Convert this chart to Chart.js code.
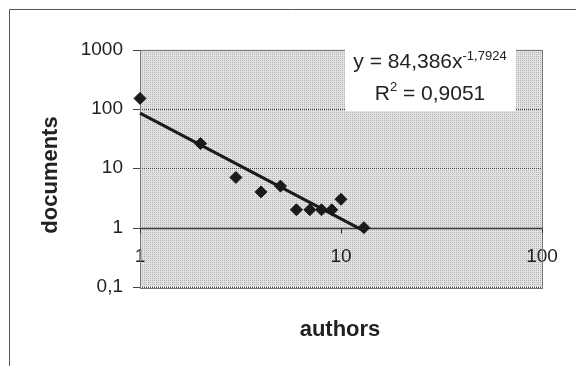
<!DOCTYPE html>
<html>
<head>
<meta charset="utf-8">
<script src="https://cdn.jsdelivr.net/npm/chart.js@4.4.0/dist/chart.umd.min.js"></script>
<style>
  html, body { margin: 0; padding: 0; background: #fff; }
  canvas { display: block; }
</style>
</head>
<body>
<canvas id="powerChart" width="580" height="366"></canvas>
<script>
// data
const authors = [1, 2, 3, 4, 5, 6, 7, 8, 9, 10, 13];
const documents = [150, 26, 7, 4, 5, 2, 2, 2, 2, 3, 1];
const trendAuthors = [1, 13];
const trendDocuments = [85, 0.88];
const xTicks = [1, 10, 100];
const xTickLabels = ['1', '10', '100'];
const yTicks = [0.1, 1, 10, 100, 1000];
const yTickLabels = ['0,1', '1', '10', '100', '1000'];
const equationMain = 'y = 84,386x';
const equationExp = '-1,7924';
const rSquared = '0,9051';

const FONT = '"Liberation Sans", Arial, sans-serif';

// stippled grey plot background like the old Excel look
const tile = document.createElement('canvas');
tile.width = 2; tile.height = 2;
const tc = tile.getContext('2d');
tc.fillStyle = '#e2e2e2';
tc.fillRect(0, 0, 2, 2);
tc.fillStyle = '#b2b2b2';
tc.fillRect(0, 0, 1, 1);

const excelLook = {
  id: 'excelLook',
  beforeDraw(chart) {
    const ctx = chart.ctx;
    const a = chart.chartArea;
    ctx.save();
    ctx.fillStyle = '#fff';
    ctx.fillRect(0, 0, chart.width, chart.height);
    // outer frame (top + left only visible)
    ctx.strokeStyle = '#555';
    ctx.lineWidth = 1;
    ctx.beginPath();
    ctx.moveTo(9.5, chart.height);
    ctx.lineTo(9.5, 9.5);
    ctx.lineTo(chart.width - 4, 9.5);
    ctx.stroke();
    ctx.fillStyle = ctx.createPattern(tile, 'repeat');
    ctx.fillRect(a.left, a.top, a.right - a.left, a.bottom - a.top);
    ctx.restore();
  },
  beforeDatasetsDraw(chart) {
    const ctx = chart.ctx;
    const a = chart.chartArea;
    const x = chart.scales.x;
    const y = chart.scales.y;
    ctx.save();
    // horizontal gridlines
    yTicks.forEach(v => {
      const py = Math.round(y.getPixelForValue(v)) + 0.5;
      ctx.beginPath();
      if (v === 1) {
        ctx.setLineDash([]);
        ctx.strokeStyle = '#333';
        ctx.lineWidth = 1.5;
      } else {
        ctx.setLineDash([1, 1]);
        ctx.strokeStyle = '#444';
        ctx.lineWidth = 1;
      }
      ctx.moveTo(a.left, py);
      ctx.lineTo(a.right, py);
      ctx.stroke();
      // tick mark on the value axis
      ctx.setLineDash([]);
      ctx.strokeStyle = '#444';
      ctx.lineWidth = 1;
      ctx.beginPath();
      ctx.moveTo(a.left - 7, py);
      ctx.lineTo(a.left, py);
      ctx.stroke();
    });
    // plot border
    ctx.setLineDash([]);
    ctx.strokeStyle = '#777';
    ctx.lineWidth = 1;
    ctx.strokeRect(Math.round(a.left) + 0.5, Math.round(a.top) + 0.5,
      Math.round(a.right - a.left), Math.round(a.bottom - a.top));
    // x tick marks on the y = 1 axis line
    const axisY = Math.round(y.getPixelForValue(1)) + 0.5;
    ctx.strokeStyle = '#333';
    xTicks.forEach(v => {
      const px = Math.round(x.getPixelForValue(v)) + 0.5;
      ctx.beginPath();
      ctx.moveTo(px, axisY);
      ctx.lineTo(px, axisY + 5);
      ctx.stroke();
    });
    ctx.restore();
  },
  afterDraw(chart) {
    const ctx = chart.ctx;
    ctx.save();
    // trendline label
    ctx.fillStyle = '#fff';
    ctx.fillRect(345, 49, 171, 62);
    ctx.fillStyle = '#222';
    ctx.textBaseline = 'alphabetic';
    ctx.textAlign = 'left';
    const cx = 430;
    ctx.font = '21px ' + FONT;
    const w1 = ctx.measureText(equationMain).width;
    ctx.font = '13px ' + FONT;
    const w2 = ctx.measureText(equationExp).width;
    let sx = cx - (w1 + w2) / 2;
    ctx.font = '21px ' + FONT;
    ctx.fillText(equationMain, sx, 67.5);
    ctx.font = '13px ' + FONT;
    ctx.fillText(equationExp, sx + w1, 60);

    ctx.font = '21px ' + FONT;
    const wR = ctx.measureText('R').width;
    const wRest = ctx.measureText(' = ' + rSquared).width;
    ctx.font = '13px ' + FONT;
    const wSq = ctx.measureText('2').width;
    sx = cx - (wR + wSq + wRest) / 2;
    ctx.font = '21px ' + FONT;
    ctx.fillText('R', sx, 99.5);
    ctx.font = '13px ' + FONT;
    ctx.fillText('2', sx + wR, 91);
    ctx.font = '21px ' + FONT;
    ctx.fillText(' = ' + rSquared, sx + wR + wSq, 99.5);

    // axis titles
    ctx.fillStyle = '#222';
    ctx.font = 'bold 22px ' + FONT;
    ctx.textAlign = 'center';
    ctx.fillText('authors', 340, 336);
    ctx.translate(57, 175);
    ctx.rotate(-Math.PI / 2);
    ctx.fillText('documents', 0, 0);
    ctx.restore();
  }
};

const ctx = document.getElementById('powerChart');
new Chart(ctx, {
  type: 'scatter',
  data: {
    datasets: [
      {
        label: 'documents',
        data: authors.map((a, i) => ({ x: a, y: documents[i] })),
        pointStyle: 'rectRot',
        pointRadius: 6,
        pointBackgroundColor: '#1a1a1a',
        pointBorderColor: '#1a1a1a',
        pointBorderWidth: 1,
        clip: false
      },
      {
        label: 'trend',
        data: trendAuthors.map((a, i) => ({ x: a, y: trendDocuments[i] })),
        showLine: true,
        borderColor: '#1a1a1a',
        borderWidth: 3,
        pointRadius: 0,
        clip: false
      }
    ]
  },
  options: {
    responsive: false,
    animation: false,
    layout: { padding: { left: 0, top: 49.5, right: 38, bottom: 79 } },
    plugins: {
      legend: { display: false },
      tooltip: { enabled: false }
    },
    scales: {
      x: {
        type: 'logarithmic',
        // category axis crosses the value axis at 1, as in the original
        position: { y: 1 },
        min: 1,
        max: 100,
        afterBuildTicks: scale => { scale.ticks = xTicks.map(v => ({ value: v })); },
        afterFit: scale => { scale.height = 0; },
        grid: { display: false, drawTicks: false },
        border: { display: false },
        ticks: {
          autoSkip: false,
          maxRotation: 0,
          padding: 18,
          color: '#222',
          font: { family: FONT, size: 19 },
          callback: (v, i) => xTickLabels[i]
        }
      },
      y: {
        type: 'logarithmic',
        min: 0.1,
        max: 1000,
        afterBuildTicks: scale => { scale.ticks = yTicks.map(v => ({ value: v })); },
        afterFit: scale => { scale.width = 140; },
        grid: { display: false, drawTicks: false },
        border: { display: false },
        ticks: {
          padding: 17,
          color: '#222',
          font: { family: FONT, size: 19 },
          callback: (v, i) => yTickLabels[i]
        }
      }
    }
  },
  plugins: [excelLook]
});
</script>
</body>
</html>
